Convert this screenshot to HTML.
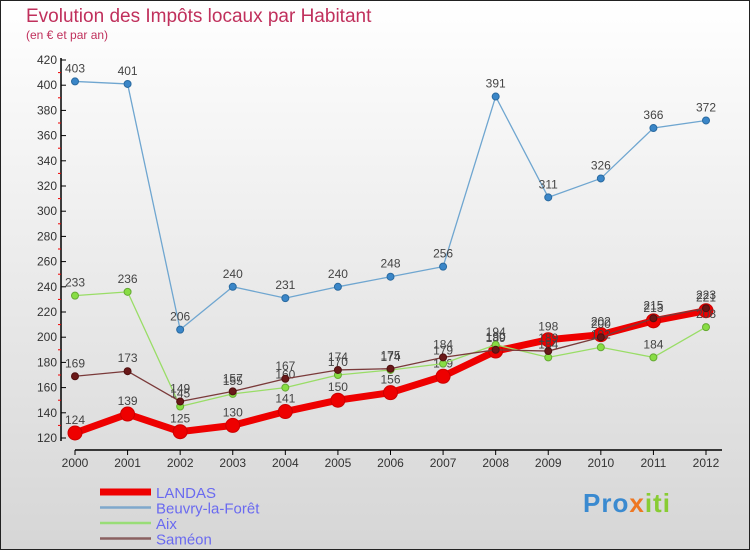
<!DOCTYPE html>
<html><head><meta charset="utf-8"><style>
body{margin:0;width:750px;height:550px;overflow:hidden;font-family:"Liberation Sans",sans-serif}
</style></head><body>
<svg id="c" width="750" height="550" xmlns="http://www.w3.org/2000/svg">
<defs><linearGradient id="bg" x1="0" y1="0" x2="0" y2="1"><stop offset="0" stop-color="#ffffff"/><stop offset="1" stop-color="#d6d6d6"/></linearGradient></defs>
<rect x="0.5" y="0.5" width="749" height="549" fill="url(#bg)" stroke="#222"/>
<text x="26" y="22" font-size="19" fill="#c0305c">Evolution des Impôts locaux par Habitant</text>
<text x="26" y="39" font-size="12" fill="#c0305c">(en € et par an)</text>
<g id="axes"></g><g id="series"></g><g id="legend"></g>
</svg>
<script>
const years=[2000,2001,2002,2003,2004,2005,2006,2007,2008,2009,2010,2011,2012];
const landas=[124,139,125,130,141,150,156,169,189,198,202,213,221];
const beuvry=[403,401,206,240,231,240,248,256,391,311,326,366,372];
const aix=[233,236,145,155,160,170,174,179,194,184,192,184,208];
const sameon=[169,173,149,157,167,174,175,184,190,189,200,215,223];
const yTicks=[120,140,160,180,200,220,240,260,280,300,320,340,360,380,400,420];
const NS="http://www.w3.org/2000/svg";
const X=i=>75+i*(706-75)/12;
const Y=v=>438-(v-120)*(438-60)/300;
function mk(t,a,p){const e=document.createElementNS(NS,t);for(const k in a)e.setAttribute(k,a[k]);p.appendChild(e);return e;}
const ax=document.getElementById('axes');
let l=mk('line',{x1:61,y1:58,x2:61,y2:441,stroke:'#000','stroke-width':1.5},ax);


l=mk('line',{x1:75,y1:450,x2:722,y2:450,stroke:'#000','stroke-width':1.5},ax);


yTicks.forEach(v=>{
 mk('line',{x1:61,y1:Y(v),x2:66,y2:Y(v),stroke:'#000'},ax);
 if(v<420)mk('line',{x1:58,y1:Y(v+10),x2:61,y2:Y(v+10),stroke:'#e00'},ax);
 const t=mk('text',{x:57,y:Y(v)+4,'font-size':12,fill:'#333','text-anchor':'end'},ax);
 t.textContent=v;
 
 
});
years.forEach((y,i)=>{
 mk('line',{x1:X(i),y1:450,x2:X(i),y2:455,stroke:'#000'},ax);
 const t=mk('text',{x:X(i),y:467,'font-size':12,fill:'#333','text-anchor':'middle'},ax);
 t.textContent=y;
 
 
});
const sg=document.getElementById('series');
function draw(name,vals,color,w,r,dot,dotStroke){
 const g=mk('g',{},sg);
 
 
 const p=mk('polyline',{points:vals.map((v,i)=>X(i)+','+Y(v)).join(' '),fill:'none',stroke:color,'stroke-width':w,'stroke-linejoin':'round'},g);
 
 
 vals.forEach((v,i)=>{
  const c=mk('circle',{cx:X(i),cy:Y(v),r:r,fill:dot,stroke:dotStroke,'stroke-width':1},g);
  
  
  const t=mk('text',{x:X(i),y:Y(v)-9,'font-size':12,fill:'#444','text-anchor':'middle'},g);
  t.textContent=v;
  
  
 });
}
draw('beuvry',beuvry,'#6fa6d0',1.3,3.5,'#3a86c8','#2a6aa0');
draw('landas',landas,'#ee0000',7,7,'#ee0000','#cc0000');
draw('aix',aix,'#99dd66',1.3,3.5,'#88dd44','#66aa33');
draw('sameon',sameon,'#7a3a3a',1.3,3.5,'#6a1818','#501010');
const lg=document.getElementById('legend');
[['LANDAS','#ee0000',7],['Beuvry-la-Forêt','#7fa8cc',2.5],['Aix','#99dd77',2.5],['Saméon','#8a6060',2.5]].forEach((d,i)=>{
 const y=492+i*15.5;
 const s=mk('line',{x1:100,y1:y,x2:151,y2:y,stroke:d[1],'stroke-width':d[2]},lg);
 
 
 const t=mk('text',{x:156,y:y+6,'font-size':15,fill:'#6a6af0'},lg);
 t.textContent=d[0];
 
 
});
</script>
<div style="position:absolute;left:583px;top:488px;font:bold 26px 'Liberation Sans',sans-serif;letter-spacing:1px"><span style="color:#3a8ad0">Pro</span><span style="color:#ee7722">x</span><span style="color:#88cc33">iti</span></div>
</body></html>
